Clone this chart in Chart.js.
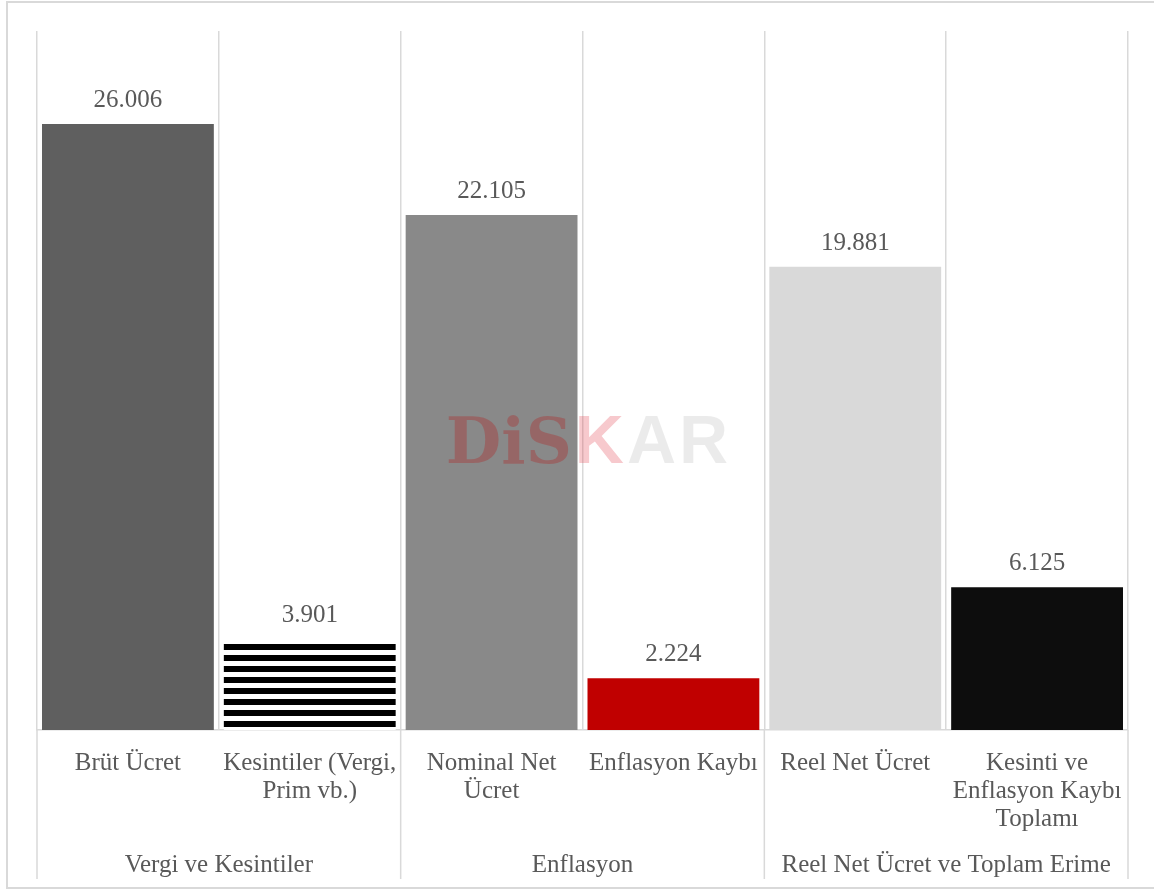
<!DOCTYPE html>
<html>
<head>
<meta charset="utf-8">
<script src="https://cdn.jsdelivr.net/npm/chart.js@4.4.1/dist/chart.umd.min.js"></script>
<style>
  body { margin: 0; background: #fff; }
  #frame { position: absolute; left: 6px; top: 1px; width: 1200px; height: 888px;
           border: 2px solid #d9d9d9; border-right: none; box-sizing: border-box; }
  #wrap { position: absolute; left: 0; top: 0; width: 1154px; height: 894px; }
</style>
</head>
<body>
<div id="frame"></div>
<div id="wrap"><canvas id="myChart"></canvas></div>
<script>
const categories = [
  ['Brüt Ücret'],
  ['Kesintiler (Vergi,', 'Prim vb.)'],
  ['Nominal Net', 'Ücret'],
  ['Enflasyon Kaybı'],
  ['Reel Net Ücret'],
  ['Kesinti ve', 'Enflasyon Kaybı', 'Toplamı']
]
const groups = ['Vergi ve Kesintiler', 'Enflasyon', 'Reel Net Ücret ve Toplam Erime']
const groupSizes = [2, 2, 2]
const values = [26006, 3901, 22105, 2224, 19881, 6125]

const textColor = '#595959'
const lineColor = '#d9d9d9'
const serif = "'Liberation Serif', serif"
const fontSize = 25

// horizontal black stripes for the second bar
function stripePattern() {
  const c = document.createElement('canvas')
  c.width = 8
  c.height = 11
  const g = c.getContext('2d')
  g.fillStyle = '#fff'
  g.fillRect(0, 0, 8, 11)
  g.fillStyle = '#000'
  g.fillRect(0, 6, 8, 5)
  g.fillRect(0, 0, 8, 1)
  return g.createPattern(c, 'repeat')
}

const barColors = ['#5f5f5f', stripePattern(), '#898989', '#c00000', '#d9d9d9', '#0d0d0d']

function formatTr(v) {
  return String(v).replace(/\B(?=(\d{3})+(?!\d))/g, '.')
}

const valueLabels = {
  id: 'valueLabels',
  afterDatasetsDraw(chart) {
    const ctx = chart.ctx
    const meta = chart.getDatasetMeta(0)
    ctx.save()
    ctx.font = fontSize + 'px ' + serif
    ctx.fillStyle = textColor
    ctx.textAlign = 'center'
    ctx.textBaseline = 'alphabetic'
    meta.data.forEach((bar, i) => {
      ctx.fillText(formatTr(values[i]), bar.x, bar.y - 17)
    })
    ctx.restore()
  }
}

const watermark = {
  id: 'watermark',
  afterDatasetsDraw(chart) {
    const ctx = chart.ctx
    const area = chart.chartArea
    const parts = [
      { t: 'DiS', font: "bold 64px 'DejaVu Serif'", color: 'rgba(192,0,0,0.25)' },
      { t: 'K', font: "bold 68px 'Liberation Sans'", color: 'rgba(225,60,75,0.28)' },
      { t: 'A', font: "bold 68px 'Liberation Sans'", color: 'rgba(0,0,0,0.08)' },
      { t: 'R', font: "bold 68px 'Liberation Sans'", color: 'rgba(0,0,0,0.08)' }
    ]
    ctx.save()
    let total = 0
    parts.forEach(p => { ctx.font = p.font; p.w = ctx.measureText(p.t).width; total += p.w + 3 })
    let x = (area.left + area.right) / 2 + 6 - total / 2
    const y = (area.top + area.bottom) / 2 + 82
    ctx.textBaseline = 'alphabetic'
    ctx.textAlign = 'left'
    parts.forEach(p => {
      ctx.font = p.font
      ctx.fillStyle = p.color
      ctx.fillText(p.t, x, y)
      x += p.w + 3
    })
    ctx.restore()
  }
}

// vertical separators between the groups, below the plot
const groupLines = {
  id: 'groupLines',
  afterDraw(chart) {
    const ctx = chart.ctx
    const xs = chart.scales.x
    const x2 = chart.scales.x2
    ctx.save()
    ctx.strokeStyle = lineColor
    ctx.lineWidth = 1.5
    let idx = 0
    const edges = [0]
    groupSizes.forEach(n => { idx += n; edges.push(idx) })
    edges.forEach(e => {
      const px = xs.getPixelForValue(e - 0.5)
      ctx.beginPath()
      ctx.moveTo(px, chart.chartArea.bottom)
      ctx.lineTo(px, x2.bottom)
      ctx.stroke()
    })
    ctx.restore()
  }
}

new Chart(document.getElementById('myChart'), {
  type: 'bar',
  data: {
    labels: categories,
    datasets: [{
      data: values,
      backgroundColor: barColors,
      borderWidth: 0,
      categoryPercentage: 1,
      barPercentage: 0.945
    }]
  },
  options: {
    responsive: true,
    maintainAspectRatio: false,
    animation: false,
    layout: { padding: { top: 31, left: 37, right: 26, bottom: 15 } },
    plugins: { legend: { display: false }, tooltip: { enabled: false } },
    scales: {
      y: { display: false, min: 0, max: 30000 },
      x: {
        weight: 0,
        offset: true,
        grid: { offset: true, color: lineColor, lineWidth: 1.5, drawTicks: false },
        border: { display: true, color: lineColor, width: 1.5 },
        ticks: {
          color: textColor,
          font: { family: serif, size: fontSize, lineHeight: 28 / fontSize },
          padding: 19,
          maxRotation: 0,
          autoSkip: false
        },
        afterFit(scale) { scale.height = 103 }
      },
      x2: {
        type: 'category',
        position: 'bottom',
        weight: 1,
        labels: groups,
        offset: true,
        grid: { display: false, drawTicks: false },
        border: { display: false },
        ticks: {
          color: textColor,
          font: { family: serif, size: fontSize, lineHeight: 28 / fontSize },
          padding: 18,
          maxRotation: 0,
          autoSkip: false
        },
        afterFit(scale) { scale.height = 46 }
      }
    }
  },
  plugins: [valueLabels, watermark, groupLines]
})
</script>
</body>
</html>
